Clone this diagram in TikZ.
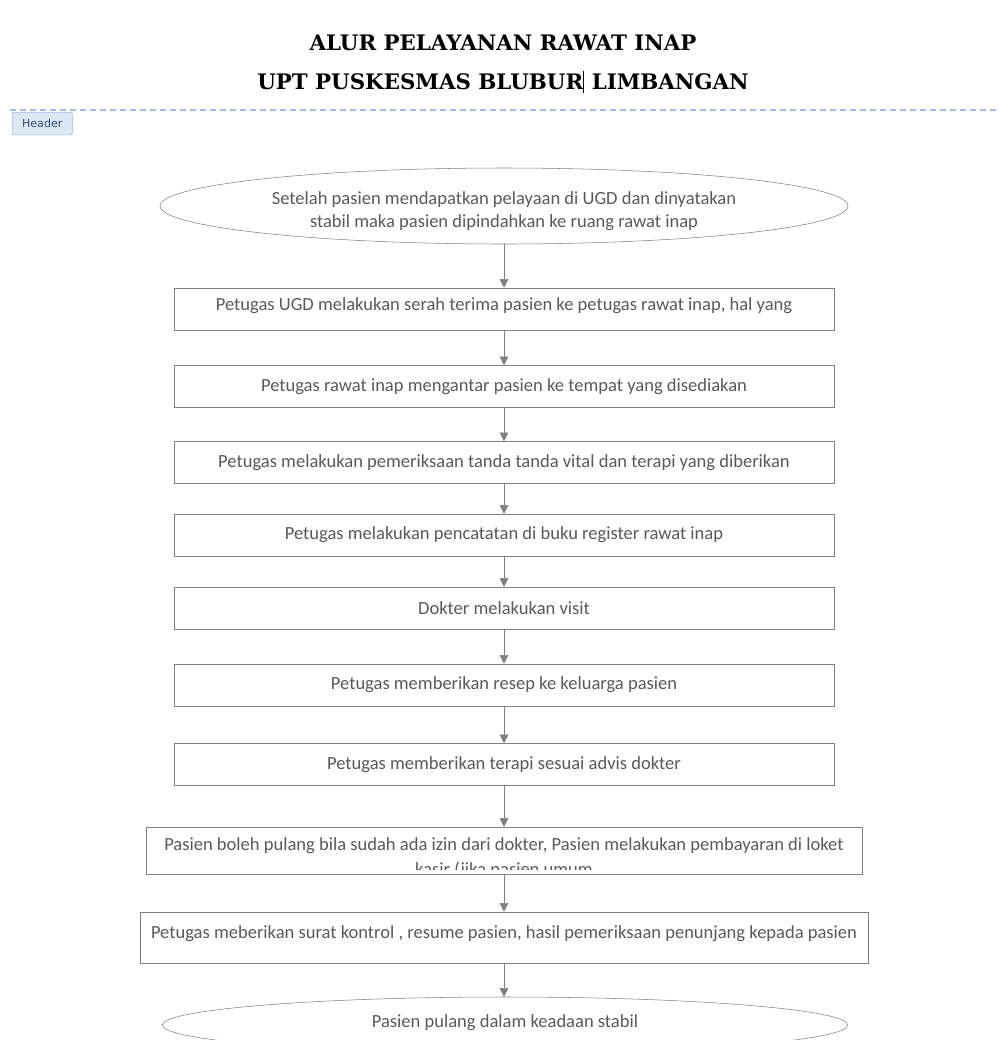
\documentclass[tikz,border=0pt]{standalone}
\usepackage{fontspec}
\setmainfont{Carlito}
\newfontfamily\titlefont{DejaVu Serif}
\newfontfamily\tabfont{DejaVu Sans}
\usetikzlibrary{shapes.geometric,arrows.meta}
\definecolor{boxgray}{HTML}{7F7F7F}
\definecolor{txtgray}{HTML}{595959}
\definecolor{hdrblue}{HTML}{9DBBE6}
\definecolor{tabfill}{HTML}{DCE7F5}
\definecolor{tabline}{HTML}{9FB8DC}
\definecolor{tabtext}{HTML}{2E4B7A}
\begin{document}
\begin{tikzpicture}[x=0.75pt,y=-0.75pt,
        box/.style={draw=boxgray,rectangle,minimum width=495pt,minimum height=31.5pt,inner sep=0pt},
        oval/.style={draw=boxgray,ellipse,inner sep=0pt},
        txt/.style={text=txtgray,font=\fontsize{13.9}{17.25}\selectfont,align=center},
        arr/.style={draw=boxgray,-{Triangle[width=6.5pt,length=6.5pt]}}]
    \useasboundingbox (0,0) rectangle (999,1040);
    \node[font=\titlefont\bfseries\fontsize{16}{20}\selectfont] (judul) at (503,43) {ALUR PELAYANAN RAWAT INAP};
    \node[font=\titlefont\bfseries\fontsize{16}{20}\selectfont] (judul2) at (503,82) {UPT PUSKESMAS BLUBUR\rule[-2.5pt]{0.8pt}{16pt} LIMBANGAN};
    \draw[hdrblue,line width=1.2pt,dash pattern=on 4.5pt off 3pt] (10,110) -- (999,110);
    \node[draw=tabline,fill=tabfill,rounded corners=1.5pt,minimum width=45pt,minimum height=17pt,
          text=tabtext,font=\tabfont\fontsize{8.3}{9}\selectfont,anchor=north west] (tab) at (12,112) {Header};
    % alur
    \node[oval,minimum width=516pt,minimum height=57pt] (mulai) at (504,206) {};
    \node[txt] at (504,211) {Setelah pasien mendapatkan pelayaan di UGD dan dinyatakan\\stabil maka pasien dipindahkan ke ruang rawat inap};
    \node[box] (b1) at (504,309) {};
    \node[txt] at (504,306) {Petugas UGD melakukan serah terima pasien ke petugas rawat inap, hal yang};
    \node[box,txt] (b2) at (504,386.5) {Petugas rawat inap mengantar pasien ke tempat yang disediakan};
    \node[box,txt] (b3) at (504,462.5) {Petugas melakukan pemeriksaan tanda tanda vital dan terapi yang diberikan};
    \node[box,txt] (b4) at (504,535) {Petugas melakukan pencatatan di buku register rawat inap};
    \node[box,txt] (b5) at (504,608) {Dokter melakukan visit};
    \node[box,txt] (b6) at (504,685) {Petugas memberikan resep ke keluarga pasien};
    \node[box,txt] (b7) at (504,764.5) {Petugas memberikan terapi sesuai advis dokter};
    \node[box,minimum width=537pt,minimum height=35.25pt] (b8) at (504,850.5) {};
    \begin{scope}
        \clip (146,829) rectangle (862,869);
        \node[txt,anchor=base] at (504,850) {Pasien boleh pulang bila sudah ada izin dari dokter, Pasien melakukan pembayaran di loket};
        \node[txt,anchor=base] at (504,875) {kasir (jika pasien umum};
    \end{scope}
    \node[box,minimum width=546pt,minimum height=38.25pt] (b9) at (504,937.5) {};
    \node[txt] at (504,934) {Petugas meberikan surat kontrol , resume pasien, hasil pemeriksaan penunjang kepada pasien};
    \begin{scope}
        \clip (0,990) rectangle (999,1040);
        \node[oval,minimum width=514pt,minimum height=42pt] (selesai) at (505,1025) {};
    \end{scope}
    \node[txt] at (505,1023) {Pasien pulang dalam keadaan stabil};
    \draw[arr] (mulai.south) -- (b1.north);
    \draw[arr] (b1.south) -- (b2.north);
    \draw[arr] (b2.south) -- (b3.north);
    \draw[arr] (b3.south) -- (b4.north);
    \draw[arr] (b4.south) -- (b5.north);
    \draw[arr] (b5.south) -- (b6.north);
    \draw[arr] (b6.south) -- (b7.north);
    \draw[arr] (b7.south) -- (b8.north);
    \draw[arr] (b8.south) -- (b9.north);
    \draw[arr] (b9.south) -- (b9.south |- selesai.north);
\end{tikzpicture}
\end{document}
